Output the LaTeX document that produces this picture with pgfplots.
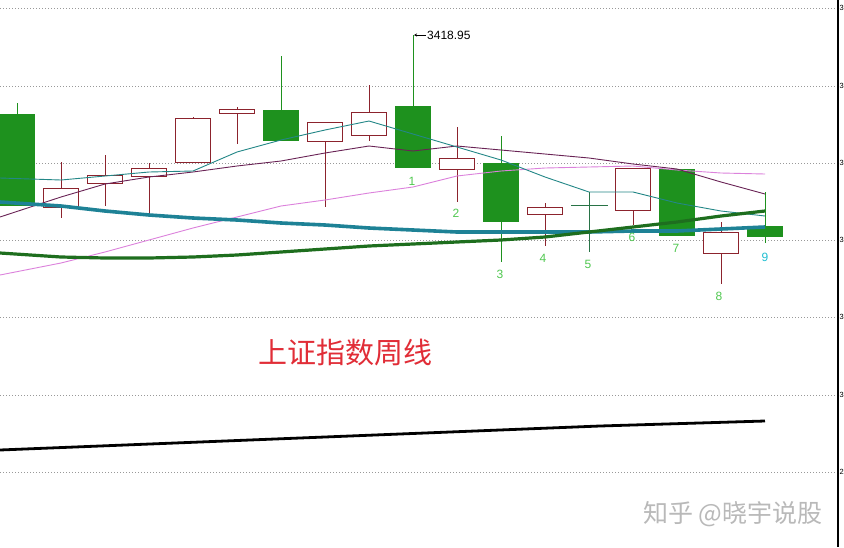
\documentclass[border=0pt]{standalone}
\usepackage{pgfplots}
\pgfplotsset{compat=1.18}
\usepackage{fontspec}
\setmainfont{Liberation Sans}
\newfontfamily\cjk{Noto Sans CJK SC}
\usetikzlibrary{arrows.meta}
\definecolor{cr}{RGB}{140,35,45}
\definecolor{cg}{RGB}{30,145,30}
\definecolor{cgd}{RGB}{40,115,70}
\definecolor{mateal}{RGB}{35,135,135}
\definecolor{mapurple}{RGB}{105,35,85}
\definecolor{mapink}{RGB}{220,130,220}
\definecolor{thteal}{RGB}{30,130,150}
\definecolor{thgreen}{RGB}{30,110,30}
\definecolor{lblg}{RGB}{80,200,80}
\definecolor{lblc}{RGB}{30,190,210}
\definecolor{ttl}{RGB}{225,45,55}
% hollow red candle: x, top, bottom, high, low
\newcommand\candleR[5]{%
  \addplot[cr, line width=1pt] coordinates {(#1,#4) (#1,#5)};
  \addplot[cr, line width=36pt] coordinates {(#1,#2) (#1,#3)};
  \addplot[white, line width=34pt, shorten <=1pt, shorten >=1pt] coordinates {(#1,#2) (#1,#3)};
}
% filled green candle: x, top, bottom, high, low
\newcommand\candleG[5]{%
  \addplot[cg, line width=1pt] coordinates {(#1,#4) (#1,#5)};
  \addplot[cg, line width=36pt] coordinates {(#1,#2) (#1,#3)};
}
\begin{document}
\begin{tikzpicture}
\useasboundingbox (0,0) rectangle (844pt,547pt);
\clip (0,0) rectangle (844pt,547pt);
\fill[white] (0,0) rectangle (844pt,547pt);
\begin{axis}[
  at={(0,0)}, anchor=south west,
  scale only axis, width=838pt, height=547pt,
  xmin=0, xmax=838, ymin=0, ymax=547,
  y dir=reverse,
  axis x line=none, axis y line=right,
  axis line style={-, black, line width=1.2pt},
  ytick={8,86,163,240,317,395,472},
  yticklabels={3,3,3,3,3,3,2},
  yticklabel style={font=\fontsize{7.5}{7.5}\selectfont, anchor=west, inner sep=0pt, xshift=1.4pt},
  major tick length=0pt,
  ymajorgrids, grid style={gray!80, dash pattern=on 1pt off 2pt},
  no markers,
  clip=true,
]
% candles
\candleG{17}{114}{206}{103}{206}
\candleR{61}{188}{208}{162}{218}
\candleR{105}{175}{184}{155}{206}
\candleR{149}{168}{177}{163}{214}
\candleR{193}{118}{163}{117}{163}
\candleR{237}{109}{114}{107}{144}
\candleG{281}{110}{141}{56}{141}
\candleR{325}{122}{142}{122}{207}
\candleR{369}{112}{136}{85}{141}
\candleG{413}{106}{168}{35}{168}
\candleR{457}{158}{170}{127}{202}
\candleG{501}{163}{222}{136}{262}
\candleR{545}{207}{215}{203}{246}
\addplot[cgd, line width=1pt] coordinates {(589,192) (589,252)};
\addplot[cgd, line width=1pt] coordinates {(571,205) (608,205)};
\candleR{633}{168}{211}{168}{225}
\candleG{677}{169}{236}{169}{236}
\candleR{721}{232}{254}{222}{284}
\candleG{765}{226}{237}{192}{243}
% moving averages
\addplot[mapink, line width=0.9pt] coordinates {(0,275) (61,263) (105,252) (149,240) (193,228) (237,217) (281,206) (325,200) (369,193) (413,187) (457,176) (501,171) (545,168) (589,167) (633,166) (677,170) (721,173) (765,174)};
\addplot[mapurple, line width=0.9pt] coordinates {(0,217) (61,197) (105,184) (149,177) (193,172) (237,166) (281,161) (325,153) (369,146) (413,151) (457,146) (501,150) (545,154) (589,158) (633,164) (677,169) (721,182) (765,194)};
\addplot[mateal, line width=0.9pt] coordinates {(0,178) (61,180) (105,176) (149,172) (193,171) (237,152) (281,140) (325,130) (369,121) (413,134) (457,147) (501,160) (545,177) (589,192) (633,192) (677,203) (721,211) (765,216)};
\addplot[thteal, line width=3.6pt] coordinates {(0,202) (61,206) (105,211) (149,215) (193,218) (237,220) (281,223) (325,225) (369,228) (413,230) (457,232) (501,232) (545,232) (589,232) (633,231) (677,231) (721,229) (765,227)};
\addplot[thgreen, line width=3.2pt] coordinates {(0,253) (61,257) (105,258) (149,258) (193,257) (237,255) (281,252) (325,249) (369,246) (413,244) (457,242) (501,240) (545,237) (589,232) (633,227) (677,222) (721,216) (765,211)};
\addplot[black, line width=2.8pt] coordinates {(0,450) (150,444) (300,438) (450,432) (600,426) (765,421)};
% labels
\draw[black, line width=0.6pt, -{Stealth[length=3pt,width=3pt]}] (axis cs:426,35) -- (axis cs:414,35);
\node[anchor=west, inner sep=0pt, font=\fontsize{12}{12}\selectfont] at (axis cs:427,35) {3418.95};
\begin{scope}[every node/.style={font=\fontsize{12}{12}\selectfont, text=lblg, inner sep=0pt}]
\node at (axis cs:412,181) {1};
\node at (axis cs:456,213) {2};
\node at (axis cs:500,274) {3};
\node at (axis cs:543,258) {4};
\node at (axis cs:588,264) {5};
\node at (axis cs:632,237) {6};
\node at (axis cs:676,248) {7};
\node at (axis cs:719,296) {8};
\node[text=lblc] at (axis cs:765,257) {9};
\end{scope}
\node[text=ttl, font=\cjk\fontsize{29}{29}\selectfont, inner sep=0pt] at (axis cs:345,353) {上证指数周线};
\node[text=gray!55, font=\cjk\fontsize{25}{25}\selectfont, inner sep=0pt] at (axis cs:733,514) {知乎 @晓宇说股};
\end{axis}
\end{tikzpicture}
\end{document}
